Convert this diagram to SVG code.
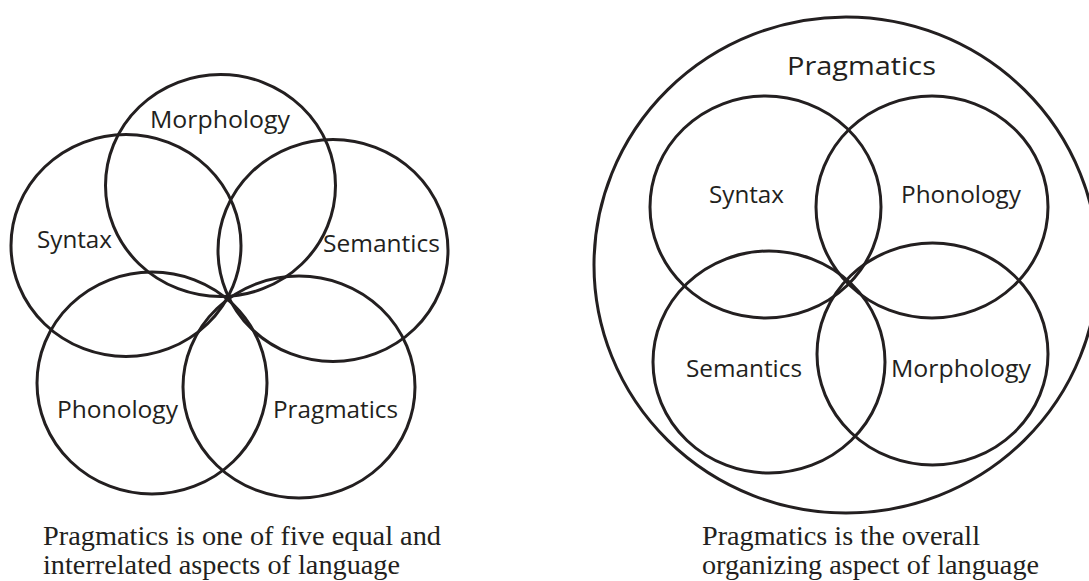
<svg xmlns="http://www.w3.org/2000/svg" width="1089" height="581" viewBox="0 0 1089 581">
  <style>
    .c { fill: none; stroke: #231f20; stroke-width: 3; }
    .lbl { font-family: "Open Sans", "Noto Sans", "Liberation Sans", sans-serif; font-size: 23.5px; fill: #231f20; }
    .big { font-size: 25.5px; }
    .cap { font-family: "Liberation Serif", "Times New Roman", serif; font-size: 28px; fill: #231f20; }
  </style>
  <rect width="1089" height="581" fill="#ffffff"/>

  <!-- Left diagram: five equal circles -->
  <g id="left-diagram">
    <g id="l-morphology">
      <ellipse class="c" cx="220.5" cy="185.5" rx="115" ry="111"/>
      <text class="lbl" x="150" y="128" textLength="140" lengthAdjust="spacingAndGlyphs">Morphology</text>
    </g>
    <g id="l-syntax">
      <ellipse class="c" cx="126" cy="245.5" rx="115" ry="111"/>
      <text class="lbl" x="37" y="248" textLength="75" lengthAdjust="spacingAndGlyphs">Syntax</text>
    </g>
    <g id="l-semantics">
      <ellipse class="c" cx="333" cy="250.5" rx="115" ry="111"/>
      <text class="lbl" x="323" y="252" textLength="117" lengthAdjust="spacingAndGlyphs">Semantics</text>
    </g>
    <g id="l-phonology">
      <ellipse class="c" cx="152" cy="383" rx="115" ry="111"/>
      <text class="lbl" x="57" y="418" textLength="121" lengthAdjust="spacingAndGlyphs">Phonology</text>
    </g>
    <g id="l-pragmatics">
      <ellipse class="c" cx="299" cy="387" rx="116" ry="111"/>
      <text class="lbl" x="273" y="418" textLength="125" lengthAdjust="spacingAndGlyphs">Pragmatics</text>
    </g>
    <g id="l-caption">
      <text class="cap" x="43" y="545" textLength="398" lengthAdjust="spacingAndGlyphs">Pragmatics is one of five equal and</text>
      <text class="cap" x="43" y="574" textLength="357" lengthAdjust="spacingAndGlyphs">interrelated aspects of language</text>
    </g>
  </g>

  <!-- Right diagram: pragmatics encloses four circles -->
  <g id="right-diagram">
    <g id="r-pragmatics">
      <ellipse class="c" cx="846" cy="265" rx="252" ry="248"/>
      <text class="lbl big" x="787" y="75" textLength="149" lengthAdjust="spacingAndGlyphs">Pragmatics</text>
    </g>
    <g id="r-syntax">
      <ellipse class="c" cx="765.5" cy="207" rx="115.5" ry="111"/>
      <text class="lbl" x="709" y="203" textLength="75" lengthAdjust="spacingAndGlyphs">Syntax</text>
    </g>
    <g id="r-phonology">
      <ellipse class="c" cx="932" cy="207" rx="116" ry="111"/>
      <text class="lbl" x="901" y="203" textLength="120" lengthAdjust="spacingAndGlyphs">Phonology</text>
    </g>
    <g id="r-semantics">
      <ellipse class="c" cx="769" cy="362" rx="116" ry="111"/>
      <text class="lbl" x="686" y="377" textLength="116" lengthAdjust="spacingAndGlyphs">Semantics</text>
    </g>
    <g id="r-morphology">
      <ellipse class="c" cx="932.5" cy="354" rx="115.5" ry="111"/>
      <text class="lbl" x="891" y="377" textLength="140" lengthAdjust="spacingAndGlyphs">Morphology</text>
    </g>
    <g id="r-caption">
      <text class="cap" x="702" y="545" textLength="278" lengthAdjust="spacingAndGlyphs">Pragmatics is the overall</text>
      <text class="cap" x="702" y="574" textLength="337" lengthAdjust="spacingAndGlyphs">organizing aspect of language</text>
    </g>
  </g>
</svg>
